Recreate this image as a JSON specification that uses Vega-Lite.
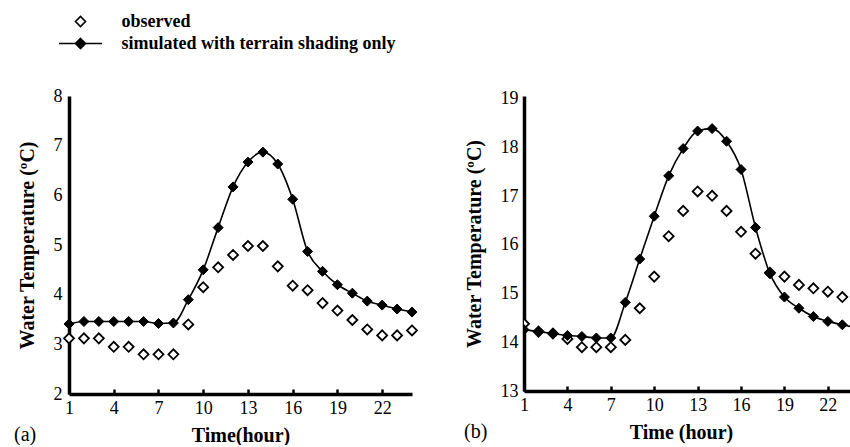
{
  "$schema": "https://vega.github.io/schema/vega-lite/v6.json",
  "background": "white",
  "padding": {"left": 14, "top": 12, "right": 0, "bottom": 0},
  "datasets": {
    "a": [
      {"hour": 1, "series": "observed", "value": 3.12},
      {"hour": 2, "series": "observed", "value": 3.12},
      {"hour": 3, "series": "observed", "value": 3.12},
      {"hour": 4, "series": "observed", "value": 2.95},
      {"hour": 5, "series": "observed", "value": 2.95},
      {"hour": 6, "series": "observed", "value": 2.8},
      {"hour": 7, "series": "observed", "value": 2.8},
      {"hour": 8, "series": "observed", "value": 2.8},
      {"hour": 9, "series": "observed", "value": 3.4},
      {"hour": 10, "series": "observed", "value": 4.15},
      {"hour": 11, "series": "observed", "value": 4.55},
      {"hour": 12, "series": "observed", "value": 4.8},
      {"hour": 13, "series": "observed", "value": 4.98},
      {"hour": 14, "series": "observed", "value": 4.98},
      {"hour": 15, "series": "observed", "value": 4.57},
      {"hour": 16, "series": "observed", "value": 4.18},
      {"hour": 17, "series": "observed", "value": 4.09},
      {"hour": 18, "series": "observed", "value": 3.83},
      {"hour": 19, "series": "observed", "value": 3.68},
      {"hour": 20, "series": "observed", "value": 3.49},
      {"hour": 21, "series": "observed", "value": 3.3},
      {"hour": 22, "series": "observed", "value": 3.18},
      {"hour": 23, "series": "observed", "value": 3.18},
      {"hour": 24, "series": "observed", "value": 3.28},
      {"hour": 1, "series": "simulated", "value": 3.41},
      {"hour": 2, "series": "simulated", "value": 3.46},
      {"hour": 3, "series": "simulated", "value": 3.46},
      {"hour": 4, "series": "simulated", "value": 3.46},
      {"hour": 5, "series": "simulated", "value": 3.46},
      {"hour": 6, "series": "simulated", "value": 3.46},
      {"hour": 7, "series": "simulated", "value": 3.42},
      {"hour": 8, "series": "simulated", "value": 3.43},
      {"hour": 9, "series": "simulated", "value": 3.9},
      {"hour": 10, "series": "simulated", "value": 4.5},
      {"hour": 11, "series": "simulated", "value": 5.35},
      {"hour": 12, "series": "simulated", "value": 6.17},
      {"hour": 13, "series": "simulated", "value": 6.67},
      {"hour": 14, "series": "simulated", "value": 6.87},
      {"hour": 15, "series": "simulated", "value": 6.63},
      {"hour": 16, "series": "simulated", "value": 5.92},
      {"hour": 17, "series": "simulated", "value": 4.87},
      {"hour": 18, "series": "simulated", "value": 4.47},
      {"hour": 19, "series": "simulated", "value": 4.2},
      {"hour": 20, "series": "simulated", "value": 4.03},
      {"hour": 21, "series": "simulated", "value": 3.87},
      {"hour": 22, "series": "simulated", "value": 3.79},
      {"hour": 23, "series": "simulated", "value": 3.71},
      {"hour": 24, "series": "simulated", "value": 3.65}
    ],
    "b": [
      {"hour": 1, "series": "observed", "value": 14.38},
      {"hour": 2, "series": "observed", "value": 14.22},
      {"hour": 3, "series": "observed", "value": 14.18},
      {"hour": 4, "series": "observed", "value": 14.07},
      {"hour": 5, "series": "observed", "value": 13.9},
      {"hour": 6, "series": "observed", "value": 13.9},
      {"hour": 7, "series": "observed", "value": 13.9},
      {"hour": 8, "series": "observed", "value": 14.05},
      {"hour": 9, "series": "observed", "value": 14.7},
      {"hour": 10, "series": "observed", "value": 15.35},
      {"hour": 11, "series": "observed", "value": 16.18},
      {"hour": 12, "series": "observed", "value": 16.7},
      {"hour": 13, "series": "observed", "value": 17.1},
      {"hour": 14, "series": "observed", "value": 17.01},
      {"hour": 15, "series": "observed", "value": 16.7},
      {"hour": 16, "series": "observed", "value": 16.27},
      {"hour": 17, "series": "observed", "value": 15.82},
      {"hour": 18, "series": "observed", "value": 15.43},
      {"hour": 19, "series": "observed", "value": 15.35},
      {"hour": 20, "series": "observed", "value": 15.18},
      {"hour": 21, "series": "observed", "value": 15.11},
      {"hour": 22, "series": "observed", "value": 15.04},
      {"hour": 23, "series": "observed", "value": 14.93},
      {"hour": 24, "series": "observed", "value": 14.75},
      {"hour": 1, "series": "simulated", "value": 14.26},
      {"hour": 2, "series": "simulated", "value": 14.22},
      {"hour": 3, "series": "simulated", "value": 14.18},
      {"hour": 4, "series": "simulated", "value": 14.14},
      {"hour": 5, "series": "simulated", "value": 14.12},
      {"hour": 6, "series": "simulated", "value": 14.09},
      {"hour": 7, "series": "simulated", "value": 14.09},
      {"hour": 8, "series": "simulated", "value": 14.82},
      {"hour": 9, "series": "simulated", "value": 15.71},
      {"hour": 10, "series": "simulated", "value": 16.59},
      {"hour": 11, "series": "simulated", "value": 17.42},
      {"hour": 12, "series": "simulated", "value": 17.98},
      {"hour": 13, "series": "simulated", "value": 18.34},
      {"hour": 14, "series": "simulated", "value": 18.39},
      {"hour": 15, "series": "simulated", "value": 18.13},
      {"hour": 16, "series": "simulated", "value": 17.55},
      {"hour": 17, "series": "simulated", "value": 16.36},
      {"hour": 18, "series": "simulated", "value": 15.41},
      {"hour": 19, "series": "simulated", "value": 14.93},
      {"hour": 20, "series": "simulated", "value": 14.7},
      {"hour": 21, "series": "simulated", "value": 14.53},
      {"hour": 22, "series": "simulated", "value": 14.43},
      {"hour": 23, "series": "simulated", "value": 14.36},
      {"hour": 24, "series": "simulated", "value": 14.3}
    ]
  },
  "config": {
    "view": {"stroke": null},
    "font": "Liberation Serif",
    "concat": {"spacing": 30},
    "axis": {
      "grid": false,
      "domainColor": "black",
      "domainWidth": 3.5,
      "tickColor": "black",
      "tickWidth": 2.5,
      "labelFont": "Liberation Serif",
      "labelFontSize": 18,
      "labelColor": "black",
      "titleFont": "Liberation Serif",
      "titleFontSize": 20,
      "titleFontWeight": "bold",
      "titleColor": "black"
    }
  },
  "hconcat": [
    {
      "width": 343,
      "height": 298,
      "data": {"name": "a"},
      "title": {"text": "(a)", "orient": "bottom", "anchor": "start", "font": "Liberation Serif", "fontSize": 20, "fontWeight": "normal", "color": "black", "offset": -20, "dx": -3},
      "encoding": {
        "x": {"field": "hour", "type": "quantitative", "scale": {"domain": [1, 24], "nice": false, "zero": false},
              "axis": {"values": [1, 4, 7, 10, 13, 16, 19, 22], "title": "Time(hour)", "tickSize": -5, "labelPadding": 10, "titlePadding": 8, "labelFlush": false}},
        "y": {"field": "value", "type": "quantitative", "scale": {"domain": [2, 8], "nice": false, "zero": false},
              "axis": {"values": [2, 3, 4, 5, 6, 7, 8], "title": "Water Temperature (ºC)", "ticks": false, "labelPadding": 7, "titlePadding": 16, "labelFlush": false}}
      },
      "layer": [
        {"transform": [{"filter": "datum.series === 'simulated'"}], "mark": {"type": "line", "interpolate": "monotone", "color": "black", "strokeWidth": 1.6}},
        {"transform": [{"filter": "datum.series === 'observed'"}], "mark": {"type": "point", "shape": "diamond", "size": 100, "filled": true, "fill": "white", "stroke": "black", "strokeWidth": 1.8, "opacity": 1}},
        {"transform": [{"filter": "datum.series === 'simulated'"}], "mark": {"type": "point", "shape": "diamond", "size": 100, "filled": true, "fill": "black", "stroke": "black", "strokeWidth": 1, "opacity": 1}},
        {
          "mark": {"type": "point", "filled": true, "opacity": 0, "stroke": "black", "strokeWidth": 1.6, "size": 100},
          "encoding": {
            "shape": {"field": "series", "type": "nominal", "scale": {"domain": ["observed", "simulated"], "range": ["diamond", "M-4.3,0H4.3M0,-1L1,0L0,1L-1,0Z"]},
                      "legend": {"title": null, "orient": "none", "legendX": 2.5, "legendY": -83.5, "direction": "vertical", "labelFont": "Liberation Serif", "labelFontSize": 18, "labelFontWeight": "bold", "labelColor": "black", "labelOffset": 32, "symbolSize": 100, "symbolOpacity": 1, "symbolStrokeColor": "black", "symbolStrokeWidth": 1.6, "rowPadding": 4, "padding": 0, "labelLimit": 400,
                                 "labelExpr": "datum.label === 'simulated' ? 'simulated with terrain shading only' : datum.label",
                                 "encode": {"symbols": {"update": {"stroke": {"value": "black"}, "strokeWidth": {"value": 1.6}, "opacity": {"value": 1}}}}}},
            "fill": {"field": "series", "type": "nominal", "scale": {"domain": ["observed", "simulated"], "range": ["white", "black"]},
                     "legend": {"title": null, "orient": "none", "legendX": 2.5, "legendY": -83.5, "direction": "vertical", "labelFont": "Liberation Serif", "labelFontSize": 18, "labelFontWeight": "bold", "labelColor": "black", "labelOffset": 32, "symbolSize": 100, "symbolOpacity": 1, "symbolStrokeColor": "black", "symbolStrokeWidth": 1.6, "rowPadding": 4, "padding": 0, "labelLimit": 400,
                                "labelExpr": "datum.label === 'simulated' ? 'simulated with terrain shading only' : datum.label",
                                "encode": {"symbols": {"update": {"stroke": {"value": "black"}, "strokeWidth": {"value": 1.6}, "opacity": {"value": 1}}}}}}
          }
        }
      ]
    },
    {
      "width": 327,
      "height": 295,
      "data": {"name": "b"},
      "title": {"text": "(b)", "orient": "bottom", "anchor": "start", "font": "Liberation Serif", "fontSize": 20, "fontWeight": "normal", "color": "black", "offset": -20, "dx": 0},
      "encoding": {
        "x": {"field": "hour", "type": "quantitative", "scale": {"domain": [1, 23.6], "nice": false, "zero": false},
              "axis": {"values": [1, 4, 7, 10, 13, 16, 19, 22], "title": "Time (hour)", "titleX": 157, "tickSize": -5, "labelPadding": 10, "titlePadding": 8, "labelFlush": false}},
        "y": {"field": "value", "type": "quantitative", "scale": {"domain": [13, 19.06], "nice": false, "zero": false},
              "axis": {"values": [13, 14, 15, 16, 17, 18, 19], "title": "Water Temperature (ºC)", "ticks": false, "labelPadding": 6, "titlePadding": 16, "labelFlush": false}}
      },
      "layer": [
        {"transform": [{"filter": "datum.series === 'simulated'"}], "mark": {"type": "line", "interpolate": "monotone", "color": "black", "strokeWidth": 1.6, "clip": true}},
        {"transform": [{"filter": "datum.series === 'observed'"}], "mark": {"type": "point", "shape": "diamond", "size": 100, "filled": true, "fill": "white", "stroke": "black", "strokeWidth": 1.8, "opacity": 1, "clip": true}},
        {"transform": [{"filter": "datum.series === 'simulated'"}], "mark": {"type": "point", "shape": "diamond", "size": 100, "filled": true, "fill": "black", "stroke": "black", "strokeWidth": 1, "opacity": 1, "clip": true}}
      ]
    }
  ]
}
